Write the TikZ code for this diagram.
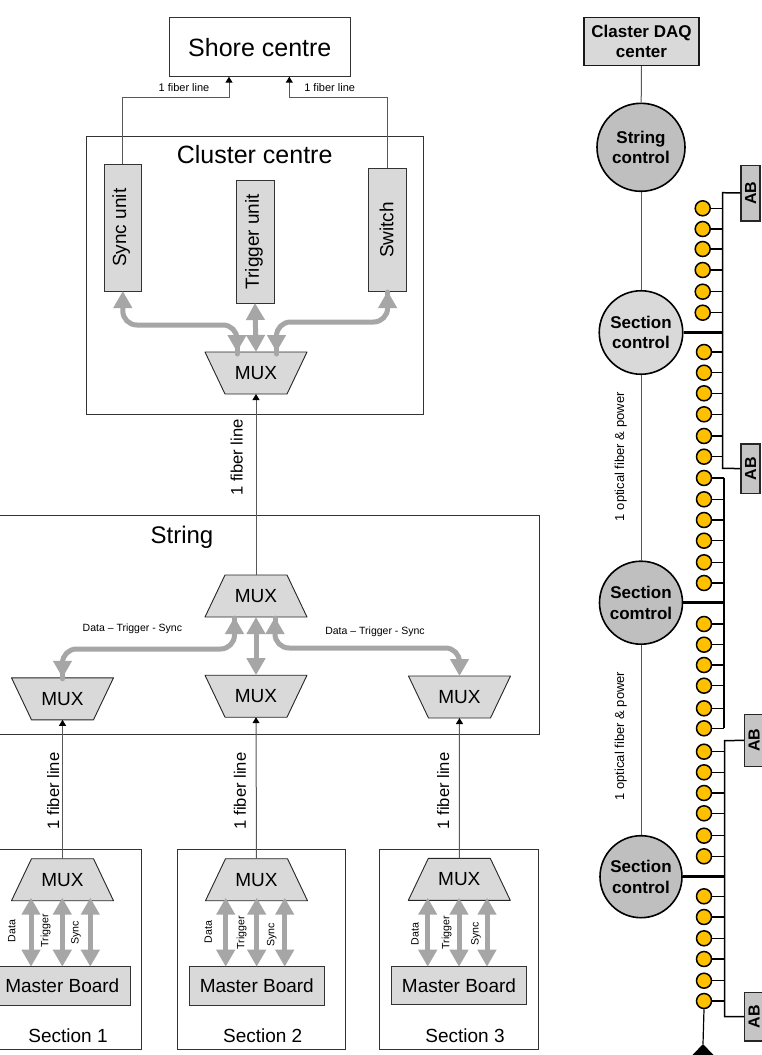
\documentclass[tikz,border=0pt]{standalone}
\usepackage{fontspec}
\setmainfont{Liberation Sans}
\usetikzlibrary{shapes.geometric,arrows.meta,calc}
\definecolor{boxg}{HTML}{D9D9D9}
\definecolor{ctrlg}{HTML}{BFBFBF}
\definecolor{fatg}{HTML}{A6A6A6}
\definecolor{pin}{HTML}{FFC000}
\newcommand{\fs}[1]{\fontsize{#1}{#1}\selectfont}
% #1 name, #2 x, #3 y, #4 sign (1: wide top, -1: wide bottom)
\newcommand{\muxshape}[4]{%
  \draw[muxpoly] (#2-51,#3-#4*21) -- (#2+51,#3-#4*21) -- (#2+31,#3+#4*21) -- (#2-31,#3+#4*21) -- cycle;
  \node[muxlabel] (#1) at (#2,#3) {MUX};}
\tikzset{
  x=1pt,y=-1pt,
  plainbox/.style={draw=black!80,line width=0.9pt,inner sep=0pt,outer sep=0pt},
  greybox/.style={plainbox,fill=boxg},
  muxpoly/.style={draw=black!85,line width=0.9pt,fill=boxg,line join=round},
  muxlabel/.style={minimum width=102pt,minimum height=42pt,inner sep=0pt,outer sep=0pt,font=\fs{19}},
  fiber/.style={draw=black!65,line width=1pt},
  fiberarr/.style={fiber,-{Triangle[length=6pt,width=7pt,color=black]}},
  fat/.style={draw=fatg,line width=5pt,line cap=round},
  fatarr/.style={draw=fatg,line width=5pt,{Triangle[length=17pt,width=18pt]}-{Triangle[length=17pt,width=18pt]}},
  fatcurve/.style={fatarr,rounded corners=14pt},
  lab/.style={inner sep=0pt,font=\fs{#1}},
  vlab/.style={inner sep=0pt,rotate=90,font=\fs{#1}},
  section/.style={circle,draw=black,line width=1.6pt,minimum size=#1,inner sep=0pt,align=center,font=\bfseries\fs{17}},
  pinnode/.style={circle,draw=black,line width=1.5pt,fill=pin,minimum size=15pt,inner sep=0pt},
  stub/.style={draw=black,line width=1.2pt},
  bus/.style={draw=black,line width=1.5pt},
  thickbus/.style={draw=black,line width=2.6pt},
  abbox/.style={draw=black!85,line width=1.3pt,fill=ctrlg!90!white,rotate=90,minimum width=#1,minimum height=19pt,inner sep=0pt,font=\bfseries\fs{16}},
}
\begin{document}
\begin{tikzpicture}
\useasboundingbox[fill=white] (0,0) rectangle (761,1055);
% --- frames
\node[plainbox,minimum width=180.5pt,minimum height=59pt,font=\fs{25}] (shore) at (259.8,47.2) {Shore centre};
\node[plainbox,minimum width=337pt,minimum height=277.5pt] (cluster) at (255,275.2) {};
\node[lab=25] (clustertxt) at (254.7,155) {Cluster centre};
\node[plainbox,minimum width=542pt,minimum height=218.5pt] (string) at (268,625) {};
\node[lab=24] (stringtxt) at (182,537) {String};
\node[plainbox,minimum width=143pt,minimum height=200pt] (sec1) at (70.2,1049-100) {};
\node[plainbox,minimum width=167.7pt,minimum height=200pt] (sec2) at (261.2,1049-100) {};
\node[plainbox,minimum width=159.4pt,minimum height=200pt] (sec3) at (459,1049-100) {};
% --- cluster units
\node[greybox,minimum width=37.7pt,minimum height=126.7pt] (sync) at (122.8,227.7) {};
\node[lab=19,rotate=90] (synctxt) at (121.3,227.7) {Sync unit};
\node[greybox,minimum width=38pt,minimum height=123pt] (trig) at (255,241.5) {};
\node[lab=19,rotate=90] (trigtxt) at (254,241.7) {Trigger unit};
\node[greybox,minimum width=37.7pt,minimum height=122.7pt] (switch) at (387.6,229.7) {};
\node[lab=19,rotate=90] (switchtxt) at (386.7,230) {Switch};
% --- muxes
\muxshape{mc}{256}{373}{1}
\muxshape{ms}{256}{596}{-1}
\muxshape{m1}{62.5}{698.8}{1}
\muxshape{m2}{256}{696.2}{1}
\muxshape{m3}{459.5}{697}{1}
\muxshape{b1}{62.5}{879.7}{-1}
\muxshape{b2}{256.5}{879.7}{-1}
\muxshape{b3}{459.3}{879.4}{-1}
% --- master boards
\node[greybox,minimum width=133pt,minimum height=38.3pt,font=\fs{19}] (mb1) at (63.5,985.8) {};
\node[lab=19] (mb1txt) at (62.3,985.5) {Master Board};
\node[greybox,minimum width=135pt,minimum height=38.3pt,font=\fs{19}] (mb2) at (256.8,985.8) {Master Board};
\node[greybox,minimum width=135.4pt,minimum height=37.8pt,font=\fs{19}] (mb3) at (459,985.7) {Master Board};
\node[lab=19] (s1txt) at (68,1035.7) {Section 1};
\node[lab=19] (s2txt) at (262.7,1035.7) {Section 2};
\node[lab=19] (s3txt) at (465,1035.7) {Section 3};
% --- fibers
\coordinate (ltap) at (229,97);
\coordinate (rtap) at (289.3,97);
\draw[fiberarr] (sync.north) |- (ltap) -- (ltap |- shore.south);
\draw[fiberarr] (switch.north) |- (rtap) -- (rtap |- shore.south);
\node[lab=11] (f1) at (184,88) {1 fiber line};
\node[lab=11] (f2) at (329.7,88) {1 fiber line};
\draw[fiberarr] (ms.north) -- (mc.south);
\draw[fiberarr] (b1.north) -- (m1.south);
\draw[fiberarr] (b2.north) -- (m2.south);
\draw[fiberarr] (b3.north) -- (m3.south);
\node[vlab=16.6] (f3) at (236.7,457.5) {1 fiber line};
\node[vlab=16.6] (f4) at (53.3,791) {1 fiber line};
\node[vlab=16.6] (f5) at (240,791) {1 fiber line};
\node[vlab=16.6] (f6) at (443.3,791) {1 fiber line};
% --- fat arrows cluster
\coordinate (cl) at (237,352);
\coordinate (cr) at (276.5,352);
\draw[fatcurve] (sync.south) -- (sync.south |- 0,325) -- (cl |- 0,325) -- (cl);
\draw[fatcurve] (switch.south) -- (switch.south |- 0,322) -- (cr |- 0,322) -- (cr);
\draw[fat] (cl |- 0,345) -- ($(cl)+(0,2)$);
\draw[fat] (cr |- 0,345) -- ($(cr)+(0,2)$);
\draw[fat] ($(switch.south)+(0,12)$) -- ($(switch.south)+(0,1)$);
\draw[fatarr] (trig.south) -- (mc.north);
% --- fat arrows string
\coordinate (sl) at (234.5,617);
\coordinate (sr) at (275,617);
\draw[fatcurve] (sl) -- (sl |- 0,649) -- (m1.north |- 0,649) -- (m1.north);
\draw[fatcurve] (sr) -- (sr |- 0,648) -- (m3.north |- 0,648) -- (m3.north);
\draw[fat] (sl |- 0,625) -- ($(sl)+(0,1)$);
\draw[fat] (sr |- 0,625) -- ($(sr)+(0,1)$);
\draw[fat] ($(m1.north)+(0,-8)$) -- ($(m1.north)+(0,1)$);
\draw[fatarr] (ms.south) -- (m2.north);
\node[lab=10.5] (dts1) at (132.4,629) {Data – Trigger - Sync};
\node[lab=10.5] (dts2) at (375,632) {Data – Trigger - Sync};
% --- fat arrows sections
\foreach \b/\xa/\xb/\xc in {1/31/62.3/90.3,2/225.7/256.7/284.7,3/427.7/459/487}{
  \draw[fatarr] (\xa,897.7) -- (\xa,966.7);
  \draw[fatarr] (\xb,897.7) -- (\xb,966.7);
  \draw[fatarr] (\xc,897.7) -- (\xc,966.7);
}
\foreach \n/\x/\y/\t in {d1/11.7/931/Data,t1/45.7/931/Trigger,y1/76/933/Sync,d2/208.3/932/Data,t2/241.7/933/Trigger,y2/271.7/935/Sync,d3/415/934/Data,t3/446.7/933/Trigger,y3/476/934/Sync}{
  \node[vlab=10.6] (\n) at (\x,\y) {\t};
}
% --- right side
\node[draw=black!90,line width=1.5pt,fill=boxg,minimum width=115pt,minimum height=47.6pt,inner sep=0pt,align=center,font=\bfseries\fs{17}] (daq) at (641.5,41.5) {Claster DAQ\\[3.5pt]center};
\node[section=88pt,fill=ctrlg] (c0) at (641,147.3) {String\\[3.5pt]control};
\node[section=83.5pt,fill=boxg] (c1) at (641,332.5) {Section\\[3.5pt]control};
\node[section=83pt,fill=ctrlg] (c2) at (641,602.7) {Section\\[3.5pt]comtrol};
\node[section=82pt,fill=ctrlg] (c3) at (641,876.7) {Section\\[3.5pt]control};
\draw[fiber] (daq) -- (c0);
\draw[fiber] (c0) -- (c1);
\draw[fiber] (c1) -- (c2);
\draw[fiber] (c2) -- (c3);
\node[vlab=13] (o1) at (620.7,456.7) {1 optical fiber \& power};
\node[vlab=13] (o2) at (620.7,736) {1 optical fiber \& power};
% AB boxes and buses
\node[abbox=55.7pt] (ab1) at (750.6,193) {AB};
\node[abbox=49.3pt] (ab2) at (750.6,468.6) {AB};
\node[abbox=51.7pt] (ab4) at (754,740.3) {AB};
\node[abbox=48.7pt] (ab3) at (754,1016.7) {AB};
\coordinate (bus1) at (722.7,192.7);
\coordinate (bus1e) at (722.7,468.3);
\coordinate (bus2) at (724,478);
\coordinate (bus2e) at (724,728.3);
\coordinate (bus3) at (724.5,740.7);
\coordinate (bus3e) at (724.5,1016.7);
\draw[bus] (ab1.north) -- (bus1) -- (bus1e) -- (ab2.north);
\draw[bus] (bus2) -- (bus2e);
\draw[bus] (ab4.north) -- (bus3) -- (bus3e) -- (ab3.north);
\draw[thickbus] (c1.east) -- (c1.east -| bus1);
\draw[thickbus] (c2.east) -- (c2.east -| bus2);
\draw[thickbus] (c3.east) -- (c3.east -| bus3);
% pins
\foreach \n/\y in {1/208.3,2/229,3/249,4/270,5/291.7,6/312.7}{
  \draw[stub] (702.7,\y) -- (722.7,\y);
  \node[pinnode] (p\n) at (702.7,\y) {};
}
\foreach \n/\y in {7/352,8/372.7,9/393.3,10/414.3,11/436,12/456.7}{
  \draw[stub] (704,\y) -- (722.7,\y);
  \node[pinnode] (p\n) at (704,\y) {};
}
\foreach \n/\y in {13/478,14/499.3,15/520,16/540.7,17/562.3,18/583,19/624,20/644.7,21/665,22/685.7,23/708.3,24/728.3}{
  \draw[stub] (704,\y) -- (724,\y);
  \node[pinnode] (p\n) at (704,\y) {};
}
\foreach \n/\y in {25/751.7,26/772.3,27/793,28/813.3,29/835.7,30/856.3,31/896.3,32/917,33/938.3,34/959,35/980.7,36/1001}{
  \draw[stub] (704,\y) -- (724.5,\y);
  \node[pinnode] (p\n) at (704,\y) {};
}
\coordinate (apex) at (703,1044);
\draw[stub] (p36.south) -- (apex);
\fill[black] (apex) -- (713.5,1055) -- (692.5,1055) -- cycle;
\end{tikzpicture}
\end{document}
